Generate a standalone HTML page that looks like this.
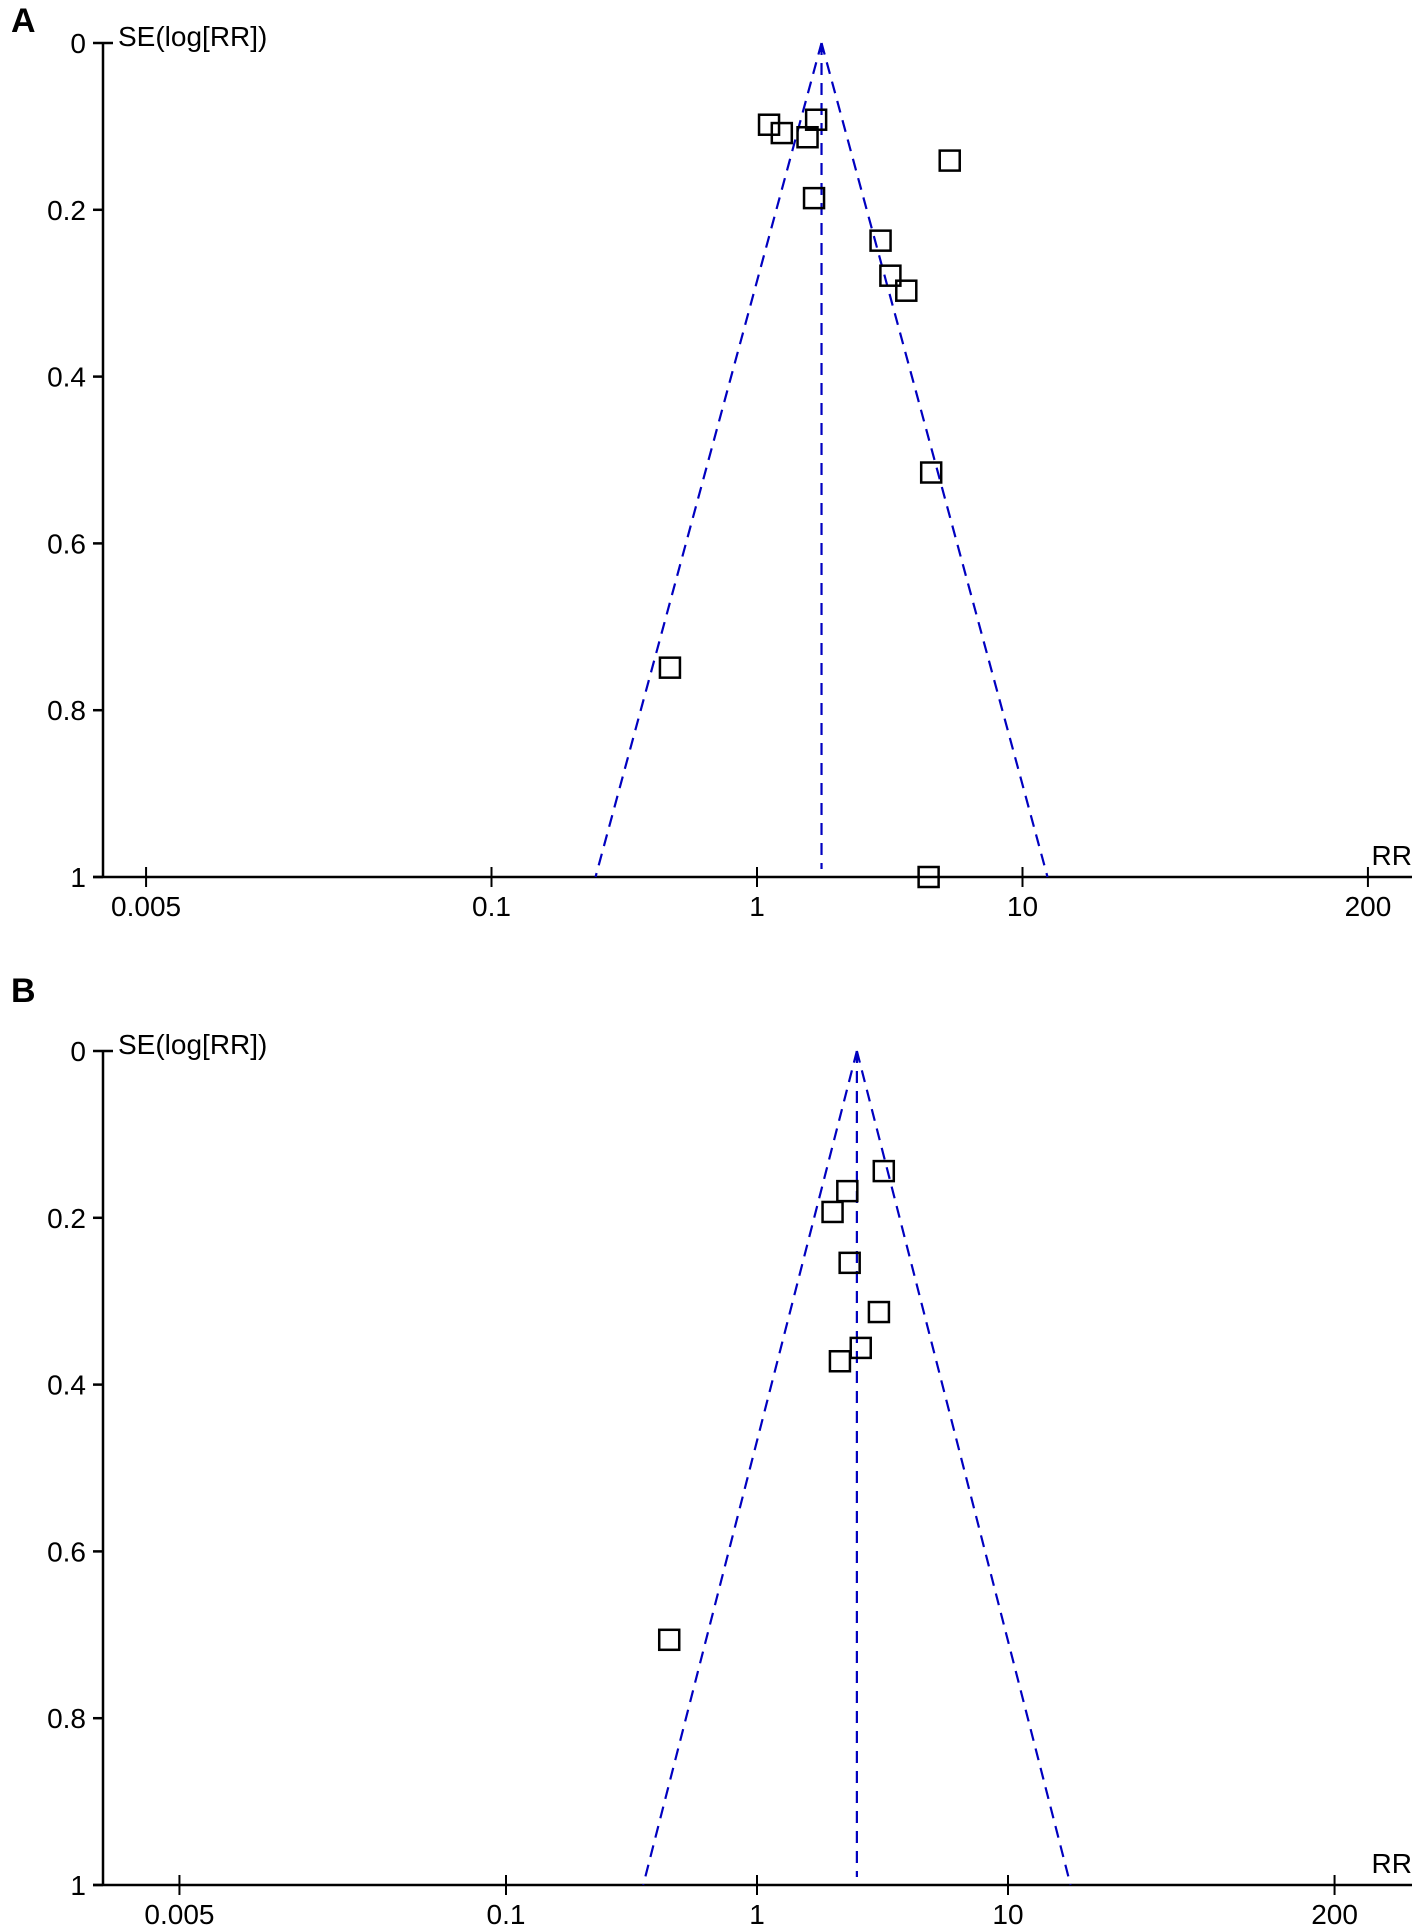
<!DOCTYPE html>
<html><head><meta charset="utf-8">
<style>
html,body{margin:0;padding:0;background:#fff;}
svg{display:block;}
text{font-family:"Liberation Sans",Arial,sans-serif;fill:#000;}
</style></head>
<body>
<svg id="chart" width="1418" height="1931" viewBox="0 0 1418 1931" xmlns="http://www.w3.org/2000/svg"></svg>
<script>
// Panel A data
const aRR = [1.11, 1.24, 1.55, 1.67, 5.32, 1.64, 2.92, 3.18, 3.65, 4.53, 0.47, 4.43];
const aSE = [0.098, 0.108, 0.113, 0.092, 0.141, 0.186, 0.237, 0.279, 0.297, 0.515, 0.749, 1.0];
const aSummary = [1.75];
// Panel B data
const bRR = [3.20, 2.29, 2.00, 2.34, 3.06, 2.59, 2.14, 0.447];
const bSE = [0.144, 0.168, 0.193, 0.254, 0.313, 0.356, 0.372, 0.706];
const bSummary = [2.50];
// Axis ticks
const xTicks = [0.005, 0.1, 1, 10, 200];
const xTickLabels = ["0.005", "0.1", "1", "10", "200"];
const yTicks = [0, 0.2, 0.4, 0.6, 0.8, 1];
const yTickLabels = ["0", "0.2", "0.4", "0.6", "0.8", "1"];

const NS = "http://www.w3.org/2000/svg";
const svg = document.getElementById("chart");
function mk(tag, attrs, parent) {
  const e = document.createElementNS(NS, tag);
  for (const k in attrs) e.setAttribute(k, attrs[k]);
  (parent || svg).appendChild(e);
  return e;
}

function panel(letter, letterY, top, bottom, decade, rr, se, summary, key) {
  const g = mk("g", {});
  
  
  const axX = 103, right = 1412, oneX = 757;
  const xS = v => oneX + decade * Math.log10(v);
  const yS = v => top + (bottom - top) * v;

  const lt = mk("text", {x: 11, y: letterY, "font-size": 34, "font-weight": "bold"}, g);
  lt.textContent = letter;
  
  

  const ya = mk("line", {x1: axX, y1: top, x2: axX, y2: bottom, stroke: "#000", "stroke-width": 2.5}, g);
  
  
  yTicks.forEach((t, i) => {
    const y = yS(t);
    mk("line", {x1: axX - 10, y1: y, x2: i === 0 ? axX + 10 : axX, y2: y, stroke: "#000", "stroke-width": 2.5}, g);
    const tl = mk("text", {x: axX - 17, y: y + 10, "font-size": 28, "text-anchor": "end"}, g);
    tl.textContent = yTickLabels[i];
    
    
  });
  const yt = mk("text", {x: 118, y: top + 3, "font-size": 28}, g);
  yt.textContent = "SE(log[RR])";
  
  

  const xa = mk("line", {x1: axX - 10, y1: bottom, x2: right, y2: bottom, stroke: "#000", "stroke-width": 2.5}, g);
  
  
  xTicks.forEach((t, i) => {
    const x = xS(t);
    mk("line", {x1: x, y1: bottom - 10, x2: x, y2: bottom + 10, stroke: "#000", "stroke-width": 2}, g);
    const tl = mk("text", {x: x, y: bottom + 39, "font-size": 28, "text-anchor": "middle"}, g);
    tl.textContent = xTickLabels[i];
    
    
  });
  const xt = mk("text", {x: right, y: bottom - 12, "font-size": 28, "text-anchor": "end"}, g);
  xt.textContent = "RR";
  
  

  const s = summary[0];
  const half = 1.96 / Math.LN10;
  const apexX = xS(s);
  const dash = {stroke: "#0000c0", "stroke-width": 2.2, "stroke-dasharray": "12,8", fill: "none"};
  const lx = oneX + decade * (Math.log10(s) - half);
  const rx = oneX + decade * (Math.log10(s) + half);
  const fl = mk("line", Object.assign({x1: apexX, y1: top, x2: lx, y2: bottom}, dash), g);
  
  
  const fr = mk("line", Object.assign({x1: apexX, y1: top, x2: rx, y2: bottom}, dash), g);
  
  
  const fc = mk("line", Object.assign({x1: apexX, y1: top, x2: apexX, y2: bottom - 8}, dash), g);
  
  
  mk("polygon", {points: `${apexX},${top} ${apexX - 3},${top + 9} ${apexX + 3},${top + 9}`, fill: "#0000c0"}, g);

  rr.forEach((v, i) => {
    const x = xS(v), y = yS(se[i]);
    const r = mk("rect", {x: x - 10, y: y - 10, width: 20, height: 20, fill: "none", stroke: "#000", "stroke-width": 2.5}, g);
    
    
  });
}

panel("A", 32, 43, 877, 265.5, aRR, aSE, aSummary, "a");
panel("B", 1002, 1051, 1885, 251, bRR, bSE, bSummary, "b");
</script>
</body></html>
